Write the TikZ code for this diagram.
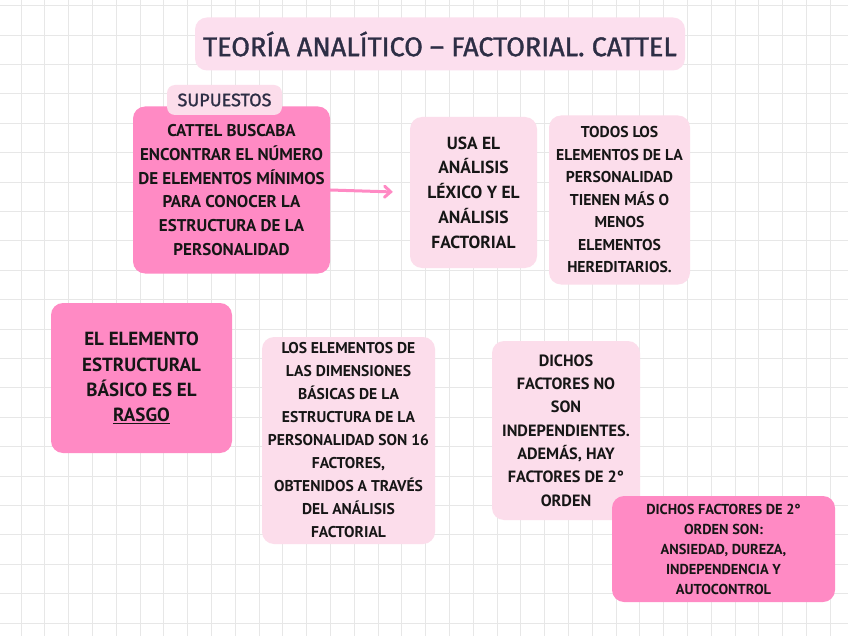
\documentclass[tikz,border=0pt]{standalone}
\usepackage{fontspec}
\setmainfont{PT Sans}
\newfontfamily\titlefont[FakeBold=1.2]{Fira Sans}
\usepackage{xcolor}
\usepackage{tikz}
\usetikzlibrary{arrows.meta,positioning}
\definecolor{hotpink}{HTML}{FF8AC4}
\definecolor{softpink}{HTML}{FCDDEB}
\definecolor{titlepink}{HTML}{FCDFEE}
\definecolor{inkdark}{HTML}{161616}
\definecolor{inknavy}{HTML}{2D2E45}
\definecolor{gridgray}{HTML}{E7E7E7}

\begin{document}
\begin{tikzpicture}[
  x=1pt, y=-1pt,
  gridline/.style={draw=gridgray, line width=0.8pt},
  card/.style={rectangle, rounded corners=12pt, align=center, inner sep=0pt,
               text=inkdark, font=\bfseries\fontsize{17}{23.8}\selectfont},
  hotcard/.style={card, fill=hotpink},
  softcard/.style={card, fill=softpink},
  arrow/.style={-{Straight Barb[length=6pt,width=11pt,line cap=round]},
               line width=3pt, hotpink, line cap=round},
]
\useasboundingbox (0,0) rectangle (848,636);
\fill[white] (0,0) rectangle (848,636);

% squared paper
\foreach \gx in {0,...,35} {
  \draw[gridline] (21+23.8*\gx,0) -- (21+23.8*\gx,636);
}
\foreach \gy in {0,...,21} {
  \draw[gridline] (0,5.6+29.4*\gy) -- (848,5.6+29.4*\gy);
}

% title
\node[card, fill=titlepink, minimum width=490pt, minimum height=53pt,
      font=\titlefont\fontsize{27}{30}\selectfont, text=inknavy] (title) at (440,44)
  {TEORÍA ANALÍTICO – FACTORIAL. CATTEL};

% first row
\node[hotcard, minimum width=197pt, minimum height=167pt] (goal) at (231.5,190)
  {CATTEL BUSCABA\\ENCONTRAR EL NÚMERO\\DE ELEMENTOS MÍNIMOS\\PARA CONOCER LA\\ESTRUCTURA DE LA\\PERSONALIDAD};
\node[softcard, minimum width=115pt, minimum height=30pt, rounded corners=8pt,
      font=\titlefont\fontsize{18}{20}\selectfont, text=inknavy] (assume) at (224.5,100)
  {SUPUESTOS};
\node[softcard, minimum width=127pt, minimum height=151pt,
      font=\bfseries\fontsize{17.5}{24.8}\selectfont] (method) at (473.5,192.5)
  {USA EL\\ANÁLISIS\\LÉXICO Y EL\\ANÁLISIS\\FACTORIAL};
\node[softcard, minimum width=141pt, minimum height=169pt,
      font=\bfseries\fontsize{15.7}{22.5}\selectfont] (heredity) at (619.5,200)
  {TODOS LOS\\ELEMENTOS DE LA\\PERSONALIDAD\\TIENEN MÁS O\\MENOS\\ELEMENTOS\\HEREDITARIOS.};

\draw[arrow, shorten >=17pt] (goal.east) -- (method.west);

% second row
\node[hotcard, minimum width=181pt, minimum height=150pt,
      font=\bfseries\fontsize{19}{25.3}\selectfont] (trait) at (141.5,378)
  {EL ELEMENTO\\ESTRUCTURAL\\BÁSICO ES EL\\\underline{RASGO}};
\node[softcard, minimum width=173pt, minimum height=207pt,
      font=\bfseries\fontsize{15.6}{23}\selectfont] (factors) at (348.5,440.5)
  {LOS ELEMENTOS DE\\LAS DIMENSIONES\\BÁSICAS DE LA\\ESTRUCTURA DE LA\\PERSONALIDAD SON 16\\FACTORES,\\OBTENIDOS A TRAVÉS\\DEL ANÁLISIS\\FACTORIAL};
\node[softcard, minimum width=148pt, minimum height=179pt,
      font=\bfseries\fontsize{16.3}{23.3}\selectfont] (depend) at (566,430.5)
  {DICHOS\\FACTORES NO\\SON\\INDEPENDIENTES.\\ADEMÁS, HAY\\FACTORES DE 2°\\ORDEN};
\node[hotcard, minimum width=223pt, minimum height=106pt,
      font=\bfseries\fontsize{14.4}{20}\selectfont] (second) at (723.5,549)
  {DICHOS FACTORES DE 2°\\ORDEN SON:\\ANSIEDAD, DUREZA,\\INDEPENDENCIA Y\\AUTOCONTROL};

\end{tikzpicture}
\end{document}
